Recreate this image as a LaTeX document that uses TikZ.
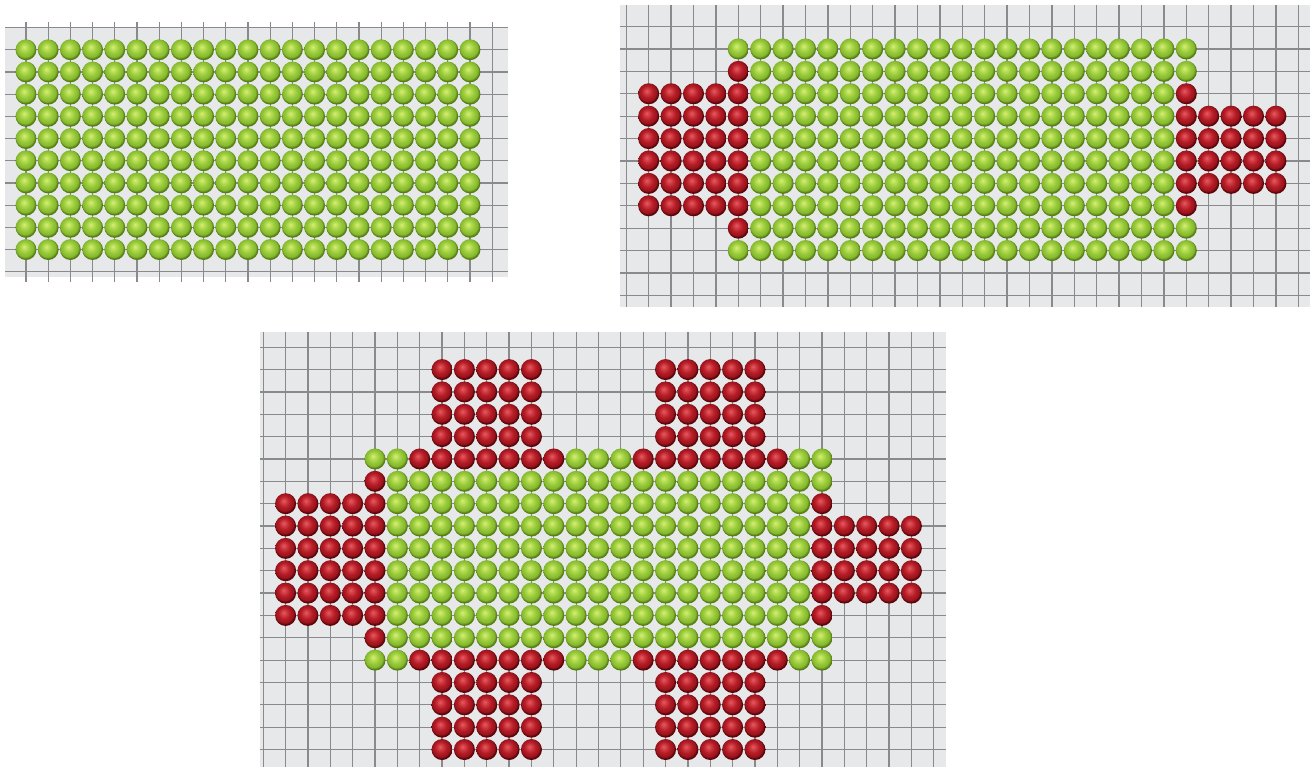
\documentclass[tikz,border=0pt]{standalone}
\usepackage{tikz}
\definecolor{GridBg}{HTML}{E7E8EA}
\definecolor{GridLine}{HTML}{8A8A8C}
\definecolor{BeadGreenHi}{HTML}{D8EE74}
\definecolor{BeadGreen}{HTML}{96CA38}
\definecolor{BeadGreenDk}{HTML}{567F14}
\definecolor{BeadRedHi}{HTML}{E85A60}
\definecolor{BeadRed}{HTML}{B51B25}
\definecolor{BeadRedDk}{HTML}{5A050A}
\pgfdeclareradialshading{greenbead}{\pgfqpoint{-5bp}{7bp}}{color(0bp)=(BeadGreenHi); color(6bp)=(BeadGreenHi!55!BeadGreen); color(14bp)=(BeadGreen); color(21bp)=(BeadGreen!75!BeadGreenDk); color(25bp)=(BeadGreenDk); color(50bp)=(BeadGreenDk)}
\pgfdeclareradialshading{redbead}{\pgfqpoint{-5bp}{7bp}}{color(0bp)=(BeadRedHi); color(6bp)=(BeadRedHi!55!BeadRed); color(14bp)=(BeadRed); color(21bp)=(BeadRed!70!BeadRedDk); color(25bp)=(BeadRedDk); color(50bp)=(BeadRedDk)}

\begin{document}
\begin{tikzpicture}[
  panelbg/.style={fill=GridBg},
  gridline/.style={draw=GridLine, line width=0.7pt},
  gbead/.style={shading=greenbead},
  rbead/.style={shading=redbead}
]
  \useasboundingbox (0,0) rectangle (26.2,15.34);

  % plain sheet
  \begin{scope}[shift={(0.52,14.344)}, x=0.444cm, y=0.444cm]
    \fill[panelbg] (-0.95,1.0) rectangle (21.7,-10.25);
    \foreach \c in {0,...,21} \draw[gridline] (\c,1.25) -- (\c,-10.45);
    \foreach \y in {1,0,...,-10} \draw[gridline] (-0.95,\y) -- (21.7,\y);
    \foreach \c in {0,...,20} \foreach \r in {0,...,9}
      \shade[gbead] (\c,-\r) circle (0.47);
  \end{scope}

  % sheet with side tabs
  \begin{scope}[shift={(14.766,14.36)}, x=0.448cm, y=0.448cm]
    \fill[panelbg] (-5.28,1.96) rectangle (25.52,-11.52);
    \foreach \c in {-5,...,25} \draw[gridline] (\c,1.96) -- (\c,-11.52);
    \foreach \y in {1,0,...,-11} \draw[gridline] (-5.28,\y) -- (25.52,\y);
    \foreach \c in {1,...,19} \foreach \r in {0,...,9}
      \shade[gbead] (\c,-\r) circle (0.47);
    \foreach \c/\r in {0/0,0/9,20/0,20/1,20/8,20/9}
      \shade[gbead] (\c,-\r) circle (0.47);
    \foreach \r in {1,...,8} \shade[rbead] (0,-\r) circle (0.47);
    \foreach \r in {2,...,7} \shade[rbead] (20,-\r) circle (0.47);
    \foreach \c in {-4,...,-1} \foreach \r in {2,...,7}
      \shade[rbead] (\c,-\r) circle (0.47);
    \foreach \c in {21,...,24} \foreach \r in {3,...,6}
      \shade[rbead] (\c,-\r) circle (0.47);
  \end{scope}

  % sheet with side, top and bottom tabs
  \begin{scope}[shift={(7.50,6.16)}, x=0.447cm, y=0.447cm]
    \fill[panelbg] (-5.15,5.68) rectangle (25.55,-13.78);
    \foreach \c in {-5,...,25} \draw[gridline] (\c,5.68) -- (\c,-13.78);
    \foreach \y in {5,4,...,-13} \draw[gridline] (-5.15,\y) -- (25.55,\y);
    \foreach \c in {1,...,19} \foreach \r in {1,...,8}
      \shade[gbead] (\c,-\r) circle (0.47);
    \foreach \c in {0,1,9,10,11,19,20} \foreach \r in {0,9}
      \shade[gbead] (\c,-\r) circle (0.47);
    \foreach \c in {2,3,4,5,6,7,8,12,13,14,15,16,17,18} \foreach \r in {0,9}
      \shade[rbead] (\c,-\r) circle (0.47);
    \foreach \r in {1,8} \shade[gbead] (20,-\r) circle (0.47);
    \foreach \r in {1,...,8} \shade[rbead] (0,-\r) circle (0.47);
    \foreach \r in {2,...,7} \shade[rbead] (20,-\r) circle (0.47);
    \foreach \c in {-4,...,-1} \foreach \r in {2,...,7}
      \shade[rbead] (\c,-\r) circle (0.47);
    \foreach \c in {21,...,24} \foreach \r in {3,...,6}
      \shade[rbead] (\c,-\r) circle (0.47);
    \foreach \c in {3,4,5,6,7,13,14,15,16,17} \foreach \r in {1,...,4}
      \shade[rbead] (\c,\r) circle (0.47);
    \foreach \c in {3,4,5,6,7,13,14,15,16,17} \foreach \r in {10,...,13}
      \shade[rbead] (\c,-\r) circle (0.47);
  \end{scope}
\end{tikzpicture}
\end{document}
